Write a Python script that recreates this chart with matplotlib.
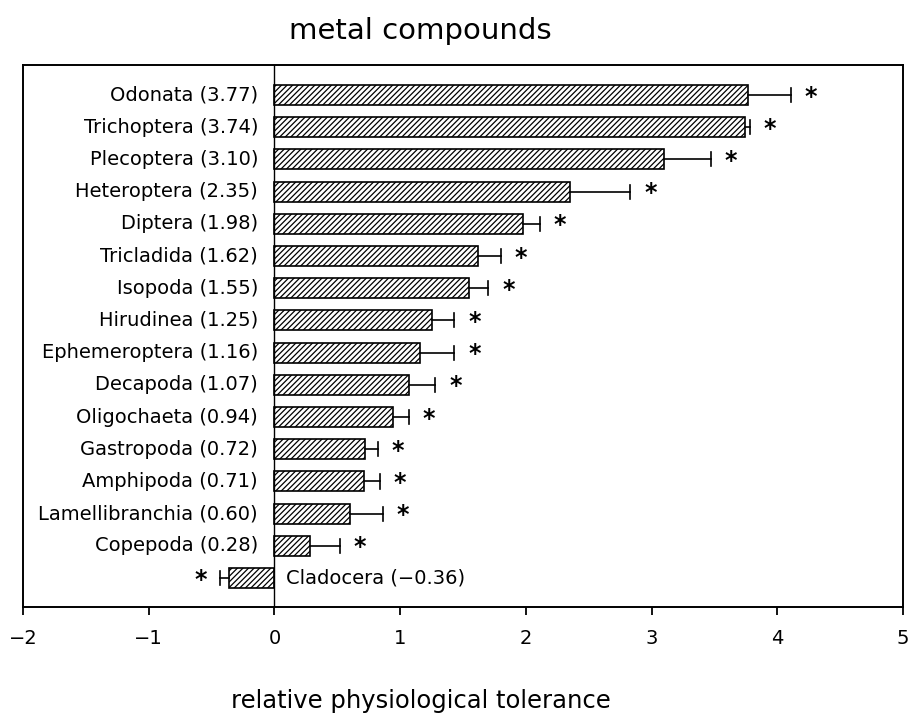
import matplotlib.pyplot as plt
import matplotlib as mpl

# Taxa, tolerance values and upper error ends
taxa = ['Odonata', 'Trichoptera', 'Plecoptera', 'Heteroptera', 'Diptera',
        'Tricladida', 'Isopoda', 'Hirudinea', 'Ephemeroptera', 'Decapoda',
        'Oligochaeta', 'Gastropoda', 'Amphipoda', 'Lamellibranchia',
        'Copepoda', 'Cladocera']
values = [3.77, 3.74, 3.10, 2.35, 1.98, 1.62, 1.55, 1.25, 1.16, 1.07,
          0.94, 0.72, 0.71, 0.60, 0.28, -0.36]
errors = [0.34, 0.04, 0.37, 0.48, 0.13, 0.18, 0.15, 0.18, 0.27, 0.21,
          0.13, 0.10, 0.13, 0.26, 0.24, 0.07]
value_labels = ['3.77', '3.74', '3.10', '2.35', '1.98', '1.62', '1.55', '1.25',
                '1.16', '1.07', '0.94', '0.72', '0.71', '0.60', '0.28', '\u22120.36']

mpl.rcParams['font.family'] = ['DejaVu Sans']
mpl.rcParams['hatch.linewidth'] = 0.9

fig = plt.figure(figsize=(9.08, 7.17), dpi=100)
ax = fig.add_axes([0.0253, 0.1534, 0.9692, 0.7559])

n = len(taxa)
ypos = [n - 1 - i for i in range(n)]

ax.barh(ypos, values, height=0.62, color='white', edgecolor='black',
        linewidth=1.2, hatch='//////')

for y, v, e, lab, name in zip(ypos, values, errors, value_labels, taxa):
    sign = 1 if v >= 0 else -1
    end = v + sign * e
    # one-sided error bar with a cap
    ax.plot([v, end], [y, y], color='black', lw=1.2)
    ax.plot([end, end], [y - 0.22, y + 0.22], color='black', lw=1.2)
    ax.text(end + sign * 0.16, y - 0.05, '*', ha='center', va='center',
            fontsize=17, fontweight='bold')
    if v >= 0:
        ax.text(-0.13, y, f'{name} ({lab})', ha='right', va='center', fontsize=14)
    else:
        ax.text(0.09, y, f'{name} ({lab})', ha='left', va='center', fontsize=14)

ax.axvline(0, color='black', lw=1.0)

ax.set_xlim(-2, 5)
ax.set_ylim(-0.9, n - 1 + 0.93)
ax.set_xticks(range(-2, 6))
ax.set_xticklabels(['\u22122', '\u22121', '0', '1', '2', '3', '4', '5'], fontsize=14)
ax.set_yticks([])
ax.tick_params(axis='x', direction='out', length=6, width=1.3, pad=10)
for s in ax.spines.values():
    s.set_linewidth(1.4)

fig.text(0.463, 0.012, 'relative physiological tolerance', ha='center',
         va='baseline', fontsize=17.5)
fig.text(0.463, 0.957, 'metal compounds', ha='center', va='center', fontsize=21)

fig.savefig('out.png', dpi=100)
